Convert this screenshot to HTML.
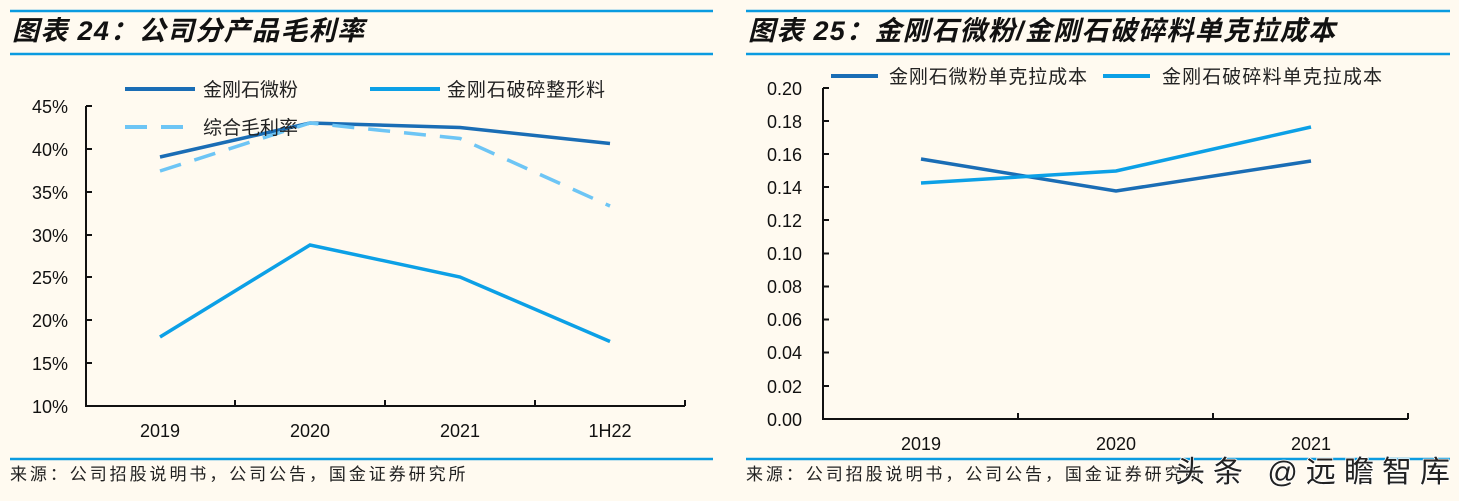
<!DOCTYPE html>
<html><head><meta charset="utf-8"><style>
html,body{margin:0;padding:0;background:#fffaf0;}
svg{display:block;font-family:"Liberation Sans","Noto Sans CJK SC",sans-serif;}
.t{font-family:"Liberation Sans","Noto Sans CJK SC",sans-serif;font-weight:bold;font-style:italic;font-size:27px;fill:#111;}
.ax{font-size:18px;fill:#111;}
.lg{font-size:19px;fill:#222;}
.src{font-size:17px;fill:#222;letter-spacing:2.5px;}
</style></head><body>
<svg width="1459" height="501" viewBox="0 0 1459 501">
<rect width="1459" height="501" fill="#fffaf0"/>
<line x1="10" y1="11" x2="713" y2="11" stroke="#0a9be0" stroke-width="2.5"/>
<line x1="10" y1="54" x2="713" y2="54" stroke="#0a9be0" stroke-width="2.5"/>
<text class="t" x="12" y="40" textLength="352">图表 24：公司分产品毛利率</text>
<line x1="10" y1="459" x2="713" y2="459" stroke="#0a9be0" stroke-width="2.5"/>
<text class="src" x="10" y="480" textLength="458">来源：公司招股说明书，公司公告，国金证券研究所</text>
<g stroke="#111" stroke-width="2" fill="none">
<path d="M86 106 V406 H685"/>
<path d="M86 106 H92 M86 149 H92 M86 192 H92 M86 235 H92 M86 277 H92 M86 320 H92 M86 363 H92"/>
<path d="M235 406 V400 M385 406 V400 M535 406 V400 M685 406 V400"/>
</g>
<g class="ax" text-anchor="end">
<text x="68" y="113">45%</text><text x="68" y="156">40%</text><text x="68" y="199">35%</text>
<text x="68" y="242">30%</text><text x="68" y="284">25%</text><text x="68" y="327">20%</text>
<text x="68" y="370">15%</text><text x="68" y="413">10%</text>
</g>
<g class="ax" text-anchor="middle">
<text x="160" y="437">2019</text><text x="310" y="437">2020</text><text x="460" y="437">2021</text><text x="610" y="437">1H22</text>
</g>
<polyline points="160,157 310,123 460,127.5 610,143.5" fill="none" stroke="#1a6db5" stroke-width="3.5"/>
<polyline points="160,337 310,245 460,277 610,341.5" fill="none" stroke="#0ca0e6" stroke-width="3.5"/>
<polyline points="160,171 310,123 460,138.5 610,206" fill="none" stroke="#6dc5f5" stroke-width="3.5" stroke-dasharray="22,14"/>
<line x1="125" y1="89" x2="195" y2="89" stroke="#1a6db5" stroke-width="4"/>
<text class="lg" x="203" y="96">金刚石微粉</text>
<line x1="370" y1="89" x2="440" y2="89" stroke="#0ca0e6" stroke-width="4"/>
<text class="lg" x="447" y="96" textLength="158">金刚石破碎整形料</text>
<line x1="125" y1="127" x2="195" y2="127" stroke="#6dc5f5" stroke-width="4" stroke-dasharray="22,14"/>
<text class="lg" x="203" y="134">综合毛利率</text>
<line x1="746" y1="11" x2="1450" y2="11" stroke="#0a9be0" stroke-width="2.5"/>
<line x1="746" y1="54" x2="1450" y2="54" stroke="#0a9be0" stroke-width="2.5"/>
<text class="t" x="748" y="40" textLength="587">图表 25：金刚石微粉/金刚石破碎料单克拉成本</text>
<line x1="746" y1="459" x2="1450" y2="459" stroke="#0a9be0" stroke-width="2.5"/>
<text class="src" x="746" y="480" textLength="458">来源：公司招股说明书，公司公告，国金证券研究所</text>
<g stroke="#111" stroke-width="2" fill="none">
<path d="M823 88 V419 H1408"/>
<path d="M823 88 H829 M823 121 H829 M823 154 H829 M823 187 H829 M823 220 H829 M823 253.5 H829 M823 286.5 H829 M823 319.5 H829 M823 352.5 H829 M823 386 H829"/>
<path d="M1018 419 V413 M1213 419 V413 M1408 419 V413"/>
</g>
<g class="ax" text-anchor="end">
<text x="802" y="95">0.20</text><text x="802" y="128">0.18</text><text x="802" y="161">0.16</text>
<text x="802" y="194">0.14</text><text x="802" y="227">0.12</text><text x="802" y="260">0.10</text>
<text x="802" y="293">0.08</text><text x="802" y="326">0.06</text><text x="802" y="359">0.04</text>
<text x="802" y="393">0.02</text><text x="802" y="426">0.00</text>
</g>
<g class="ax" text-anchor="middle">
<text x="921" y="450">2019</text><text x="1116" y="450">2020</text><text x="1311" y="450">2021</text>
</g>
<polyline points="921,159 1116,191 1311,161" fill="none" stroke="#1a6db5" stroke-width="3.5"/>
<polyline points="921,183 1116,171 1311,127" fill="none" stroke="#0ca0e6" stroke-width="3.5"/>
<line x1="831" y1="76" x2="878" y2="76" stroke="#1a6db5" stroke-width="4"/>
<text class="lg" x="889" y="83" textLength="198">金刚石微粉单克拉成本</text>
<line x1="1103" y1="76" x2="1150" y2="76" stroke="#0ca0e6" stroke-width="4"/>
<text class="lg" x="1162" y="83" textLength="220">金刚石破碎料单克拉成本</text>
<text x="1175" y="482" textLength="275" style="font-size:30px;fill:#222;stroke:#fff;stroke-width:1.5;paint-order:stroke">头条 @远瞻智库</text>
</svg>
</body></html>
